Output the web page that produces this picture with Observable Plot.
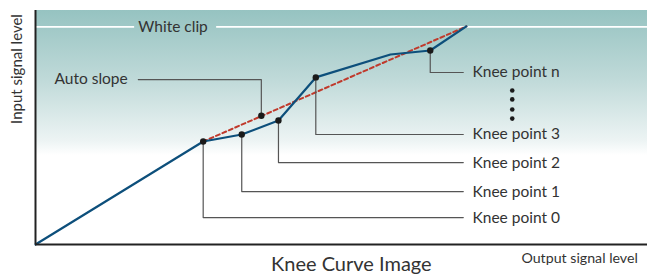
<!DOCTYPE html>
<html>
<head>
<meta charset="utf-8">
<script src="https://cdn.jsdelivr.net/npm/d3@7"></script>
<script src="https://cdn.jsdelivr.net/npm/@observablehq/plot@0.6"></script>
<style>
  html, body { margin: 0; padding: 0; background: #fff; }
  #chart svg { display: block; }
</style>
</head>
<body>
<div id="chart"></div>
<script>
// ---- Data (diagram units: output level 0–100 across, input level 0–100 up) ----
const curveX = [0, 27.4, 33.7, 39.7, 45.8, 58.0, 64.5, 70.4];
const curveY = [0, 44.0, 47.0, 53.0, 71.4, 81.2, 82.9, 93.2];

const kneeNames = ["Knee point 0", "Knee point 1", "Knee point 2", "Knee point 3", "Knee point n"];
const kneeX = [27.4, 33.7, 39.7, 45.8, 64.5];
const kneeY = [44.0, 47.0, 53.0, 71.4, 82.9];
const kneeLabelY = [11.5, 22.6, 35.0, 47.0, 73.5];

const autoSlopeX = [27.4, 70.4];
const autoSlopeY = [44.0, 93.2];
const autoDotX = 36.9, autoDotY = 55.0;
const autoLabelX = 16.8, autoLabelY = 70.5;

const whiteClipY = 93;
const ellipsisY = [65.8, 62.0, 57.7, 53.8];

// ---- Build tables ----
const curve = curveX.map((x, i) => ({x, y: curveY[i]}));
const auto = autoSlopeX.map((x, i) => ({x, y: autoSlopeY[i]}));
const leaderEnd = 69.9, labelX = 71.4, ellipsisX = 77.9;
const leaders = [];
kneeNames.forEach((n, i) => {
  leaders.push({id: n, x: kneeX[i], y: kneeY[i]});
  leaders.push({id: n, x: kneeX[i], y: kneeLabelY[i]});
  leaders.push({id: n, x: leaderEnd, y: kneeLabelY[i]});
});
leaders.push({id: "auto", x: autoDotX, y: autoDotY});
leaders.push({id: "auto", x: autoDotX, y: autoLabelY});
leaders.push({id: "auto", x: autoLabelX, y: autoLabelY});
const knees = kneeNames.map((n, i) => ({n, x: kneeX[i], y: kneeY[i], ly: kneeLabelY[i]}));

const font = "Lato, 'Open Sans', sans-serif";
const txt = "#333";
const fs = 15.5;

const chart = Plot.plot({
  width: 647,
  height: 276,
  marginLeft: 35,
  marginRight: 0,
  marginTop: 10,
  marginBottom: 32,
  x: {domain: [0, 100], axis: null},
  y: {domain: [0, 100], axis: null},
  style: {fontFamily: font, background: "#fff", overflow: "visible"},
  marks: [
    Plot.rect([{}], {x1: 0, x2: 100, y1: 0, y2: 100, fill: "url(#kneeGrad)"}),
    Plot.ruleY([whiteClipY], {x1: 0, x2: 16.2, stroke: "#fff", strokeWidth: 1.6}),
    Plot.ruleY([whiteClipY], {x1: 29.6, x2: 100, stroke: "#fff", strokeWidth: 1.6}),
    Plot.text(["White clip"], {x: 16.8, y: whiteClipY, text: d => d, textAnchor: "start", fontSize: fs, fill: txt}),
    Plot.line(auto, {x: "x", y: "y", stroke: "#c0392b", strokeWidth: 2, strokeDasharray: "4,3"}),
    Plot.line(curve, {x: "x", y: "y", stroke: "#0d4f7b", strokeWidth: 2.2}),
    Plot.line(leaders, {x: "x", y: "y", z: "id", stroke: "#555", strokeWidth: 1.2}),
    Plot.dot(knees, {x: "x", y: "y", r: 3.2, fill: "#1a1a1a"}),
    Plot.dot([{}], {x: autoDotX, y: autoDotY, r: 3.2, fill: "#1a1a1a"}),
    Plot.dot(ellipsisY, {x: ellipsisX, y: d => d, r: 2.3, fill: "#1a1a1a"}),
    Plot.text(knees, {x: labelX, y: "ly", text: "n", textAnchor: "start", fontSize: fs, fill: txt}),
    Plot.text(["Auto slope"], {x: 3.1, y: autoLabelY, text: d => d, textAnchor: "start", fontSize: fs, fill: txt}),
    Plot.ruleX([0], {stroke: "#222", strokeWidth: 2}),
    Plot.ruleY([0], {stroke: "#222", strokeWidth: 2}),
    Plot.text(["Input signal level"], {x: -2.94, y: 75.0, text: d => d, rotate: -90, fontSize: 15, fill: txt}),
    Plot.text(["Output signal level"], {x: 79.4, y: -5.8, text: d => d, textAnchor: "start", fontSize: 14.2, fill: txt}),
    Plot.text(["Knee Curve Image"], {x: 51.6, y: -8.8, text: d => d, fontSize: 20, fill: txt})
  ]
});

const defs = d3.select(chart).insert("defs", ":first-child");
const g = defs.append("linearGradient").attr("id", "kneeGrad")
  .attr("x1", 0).attr("y1", 0).attr("x2", 0).attr("y2", 1);
g.append("stop").attr("offset", "0%").attr("stop-color", "#96c3c1");
g.append("stop").attr("offset", "30%").attr("stop-color", "#c0dad9");
g.append("stop").attr("offset", "56%").attr("stop-color", "#edf4f4");
g.append("stop").attr("offset", "62%").attr("stop-color", "#ffffff");
g.append("stop").attr("offset", "100%").attr("stop-color", "#ffffff");

document.getElementById("chart").appendChild(chart);
</script>
</body>
</html>
